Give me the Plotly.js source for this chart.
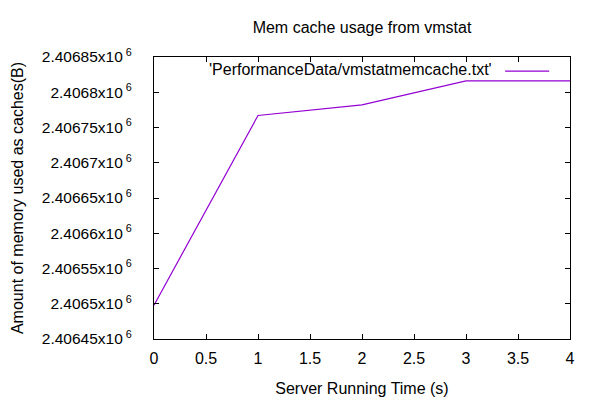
<!DOCTYPE html>
<html>
<head>
<meta charset="utf-8">
<script src="https://cdn.plot.ly/plotly-3.0.1.min.js"></script>
<style>html,body{margin:0;padding:0;background:#fff;}#chart{width:600px;height:400px;}</style>
</head>
<body>
<div id="chart"></div>
<script>
const timeSeconds = [0, 1, 2, 3, 4];
const memCache = [2406498, 2406767, 2406782, 2406816, 2406816];
const seriesName = "'PerformanceData/vmstatmemcache.txt'";
const yTickValues = [2406450, 2406500, 2406550, 2406600, 2406650, 2406700, 2406750, 2406800, 2406850];
const yTickLabels = ["2.40645", "2.4065", "2.40655", "2.4066", "2.40665", "2.4067", "2.40675", "2.4068", "2.40685"];
const xTickValues = [0, 0.5, 1, 1.5, 2, 2.5, 3, 3.5, 4];
const xTickLabels = ["0", "0.5", "1", "1.5", "2", "2.5", "3", "3.5", "4"];

const font = {family: "'Liberation Sans', Arial, sans-serif", size: 16, color: '#000'};
const yTickFont = {family: "'Liberation Sans', Arial, sans-serif", size: 15.5, color: '#000'};
const lineColor = '#9400d3';

const trace = {
  x: timeSeconds, y: memCache, type: 'scatter', mode: 'lines', name: seriesName,
  line: {color: lineColor, width: 1.2}, showlegend: false
};

const layout = {
  width: 600, height: 400,
  margin: {l: 154, r: 30, t: 57, b: 61},
  paper_bgcolor: '#fff', plot_bgcolor: '#fff',
  font: font,
  title: {text: 'Mem cache usage from vmstat', x: 0.5, xref: 'paper', y: 0.945, yref: 'container', font: font},
  xaxis: {
    range: [0, 4], tickvals: xTickValues, ticktext: xTickLabels,
    ticks: 'inside', ticklen: 5, tickcolor: '#000', tickwidth: 1,
    showline: true, linecolor: '#000', linewidth: 1, mirror: 'ticks',
    showgrid: false, zeroline: false, tickfont: font, ticklabelstandoff: 5,
    title: {text: 'Server Running Time (s)', font: font, standoff: 16}
  },
  yaxis: {
    range: [2406450, 2406850], tickvals: yTickValues,
    ticktext: yTickLabels.map(s => s + 'x10<sup> 6</sup>'),
    ticks: 'inside', ticklen: 5, tickcolor: '#000', tickwidth: 1,
    showline: true, linecolor: '#000', linewidth: 1, mirror: 'ticks',
    showgrid: false, zeroline: false, tickfont: yTickFont, ticklabelstandoff: 18,
    title: {text: 'Amount of memory used as caches(B)', font: font, standoff: 14}
  },
  showlegend: false,
  annotations: [{
    xref: 'paper', yref: 'paper', x: 0.818, y: 0.954, xanchor: 'right', yanchor: 'middle',
    text: seriesName, showarrow: false, font: font
  }],
  shapes: [{
    type: 'line', xref: 'paper', yref: 'paper', x0: 0.844, x1: 0.950, y0: 0.950, y1: 0.950,
    line: {color: lineColor, width: 1.2}
  }]
};

Plotly.newPlot('chart', [trace], layout, {displayModeBar: false, staticPlot: true});
</script>
</body>
</html>
